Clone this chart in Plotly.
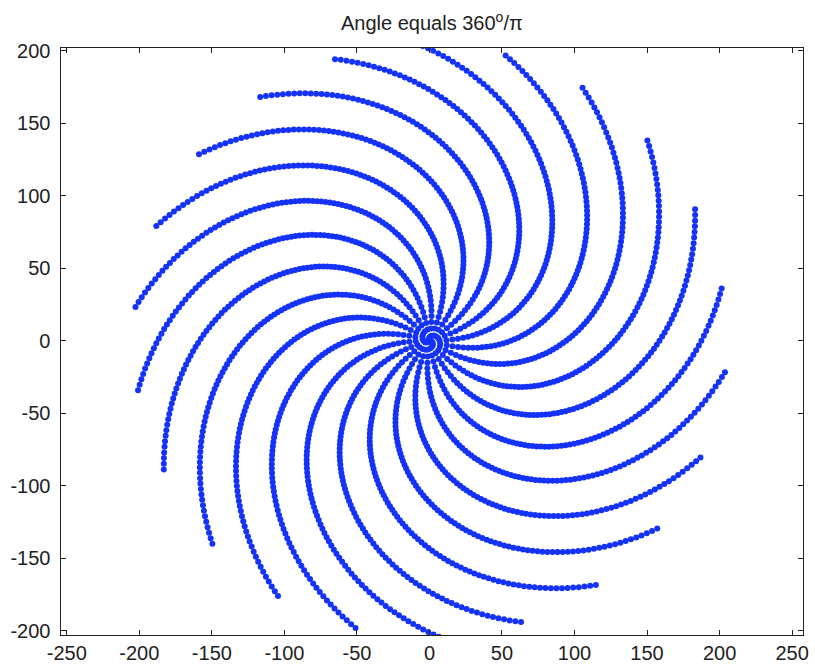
import numpy as np
import plotly.graph_objects as go

# phyllotaxis pattern: point n is turned by n times the divergence angle
# named in the title and sits at radius R_SCALE * n**R_POWER
ANGLE_DEG = 360.0 / np.pi
N_POINTS = 2000
R_POWER = 0.75
R_SCALE = 205.0 / N_POINTS ** R_POWER

x_ticks = [-250, -200, -150, -100, -50, 0, 50, 100, 150, 200, 250]
y_ticks = [-200, -150, -100, -50, 0, 50, 100, 150, 200]

n = np.arange(1, N_POINTS + 1)
theta = np.deg2rad(ANGLE_DEG) * n
r = R_SCALE * n ** R_POWER
xs = r * np.cos(theta)
ys = r * np.sin(theta)

fig = go.Figure()
fig.add_trace(go.Scatter(
    x=xs, y=ys, mode='markers',
    marker=dict(color='rgb(20,50,248)', size=6, line_width=0),
    showlegend=False, hoverinfo='skip',
))

font = dict(family='Liberation Sans, Arial, sans-serif', size=20, color='#222')
axis_style = dict(
    showgrid=False, zeroline=False, showline=True, mirror='ticks',
    linecolor='#222', linewidth=1, ticks='inside', ticklen=5, tickcolor='#222',
    tickfont=font, automargin=False,
)
fig.update_xaxes(range=[-254, 257.5], tickvals=x_ticks,
                 ticktext=[str(v) for v in x_ticks], **axis_style)
# trailing space pushes the y labels a little off the frame, as in the reference
fig.update_yaxes(range=[-203, 202], tickvals=y_ticks,
                 ticktext=[str(v) + '\u00a0' for v in y_ticks], **axis_style)

fig.add_annotation(text='Angle equals 360<sup>o</sup>/π', xref='paper', yref='paper',
                   x=0.5, y=1, xanchor='center', yanchor='bottom', yshift=12,
                   showarrow=False, font=font)

fig.update_layout(
    width=815, height=670,
    margin=dict(l=61, r=12, t=48, b=35),
    paper_bgcolor='white', plot_bgcolor='white',
)

# drop the page's default body margin so the figure sits at the window corner
fig.write_html("out.html", config={'displayModeBar': False},
               post_script="document.body.style.margin='0';")
